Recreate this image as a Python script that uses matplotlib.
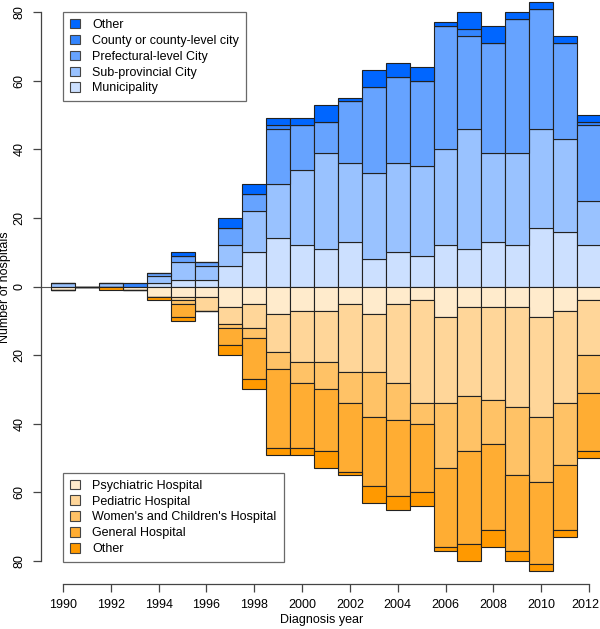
import matplotlib
matplotlib.use("Agg")
import matplotlib.pyplot as plt
import matplotlib.transforms as mtransforms
import numpy as np
from matplotlib.patches import Patch
from matplotlib.ticker import FuncFormatter

plt.rcParams["font.family"] = ["Liberation Sans", "DejaVu Sans"]

years = np.arange(1990, 2013)

# city level (drawn upward), bottom to top
city_labels = ["Municipality", "Sub-provincial City", "Prefectural-level City",
               "County or county-level city", "Other"]
municipality = [0, 0, 0, 0, 1, 2, 2, 6, 10, 14, 12, 11, 13, 8, 10, 9, 12, 11, 13, 12, 17, 16, 12]
sub_provincial = [1, 0, 1, 0, 2, 5, 4, 6, 12, 16, 22, 28, 23, 25, 26, 26, 28, 35, 26, 27, 29, 27, 13]
prefectural = [0, 0, 0, 0, 1, 2, 1, 5, 5, 16, 13, 9, 18, 25, 25, 25, 36, 27, 32, 39, 35, 28, 22]
county = [0, 0, 0, 1, 0, 0, 0, 0, 0, 1, 0, 0, 0, 0, 0, 0, 0, 2, 0, 0, 0, 0, 1]
city_other = [0, 0, 0, 0, 0, 1, 0, 3, 3, 2, 2, 5, 1, 5, 4, 4, 1, 5, 5, 2, 2, 2, 2]
city_colors = ["#cce0ff", "#99c2ff", "#66a3ff", "#3385ff", "#0066ff"]

# hospital type (drawn downward), top to bottom
hosp_labels = ["Psychiatric Hospital", "Pediatric Hospital",
               "Women's and Children's Hospital", "General Hospital", "Other"]
psychiatric = [1, 0, 0, 1, 3, 3, 3, 6, 5, 8, 7, 7, 5, 8, 5, 4, 9, 6, 6, 6, 9, 7, 4]
pediatric = [0, 0, 0, 0, 0, 1, 4, 5, 7, 11, 15, 15, 20, 17, 23, 30, 25, 26, 27, 29, 29, 27, 16]
women_children = [0, 0, 0, 0, 0, 1, 0, 1, 3, 5, 6, 8, 9, 13, 11, 6, 19, 16, 13, 20, 19, 18, 11]
general = [0, 0, 0, 0, 0, 4, 0, 5, 12, 23, 19, 18, 20, 20, 22, 20, 23, 27, 25, 22, 24, 19, 17]
hosp_other = [0, 0, 1, 0, 1, 1, 0, 3, 3, 2, 2, 5, 1, 5, 4, 4, 1, 5, 5, 3, 2, 2, 2]
hosp_colors = ["#ffebcc", "#ffd699", "#ffc266", "#ffad33", "#ff9900"]

W, H = 600, 629
FS = 9
fig = plt.figure(figsize=(W / 100, H / 100), dpi=100)
# axes placed so that 1990 -> x=63px, 2012 -> x=589px, +-80 -> y=12/561px
ax = fig.add_axes([41 / W, (H - 573) / H, (W - 41) / W, 573 / H])
ax.set_xlim(1990 - 22 / 23.909, 2012 + 11 / 23.909)
ax.set_ylim(-83.5, 83.5)

edge = dict(edgecolor="#222222", linewidth=0.8, width=1.0)

ax.axhline(0, color="#555555", lw=0.8, zorder=1)

bottom = np.zeros(len(years))
for vals, col in zip([municipality, sub_provincial, prefectural, county, city_other], city_colors):
    vals = np.array(vals)
    ax.bar(years, vals, bottom=bottom, color=col, zorder=2, **edge)
    bottom += vals

bottom = np.zeros(len(years))
for vals, col in zip([psychiatric, pediatric, women_children, general, hosp_other], hosp_colors):
    vals = np.array(vals)
    ax.bar(years, -vals, bottom=-bottom, color=col, zorder=2, **edge)
    bottom += vals

# R-like detached axes
for s in ["top", "right"]:
    ax.spines[s].set_visible(False)
ax.spines["left"].set_bounds(-80, 80)
ax.spines["bottom"].set_bounds(1990, 2012)
ax.spines["bottom"].set_position(("outward", 8))
for s in ["left", "bottom"]:
    ax.spines[s].set_color("#444444")
    ax.spines[s].set_linewidth(0.9)

ax.set_xticks(np.arange(1990, 2013, 2))
ax.set_yticks(np.arange(-80, 81, 20))
ax.yaxis.set_major_formatter(FuncFormatter(lambda v, p: f"{abs(int(v))}"))
ax.tick_params(axis="both", direction="out", length=6, width=0.9, color="#444444",
               labelsize=FS)
ax.tick_params(axis="x", pad=5)
ax.tick_params(axis="y", pad=5)
for lab in ax.get_yticklabels():
    lab.set_rotation(90)
    lab.set_va("center")

# keep the last year label inside the canvas
last = ax.get_xticklabels()[-1]
last.set_transform(last.get_transform() +
                   mtransforms.ScaledTranslation(-4 / 100, 0, fig.dpi_scale_trans))

fig.text(322 / W, 1 - 620 / H, "Diagnosis year", ha="center", va="center", fontsize=FS)
fig.text(5 / W, 1 - 287 / H, "Number of hospitals", ha="center", va="center",
         rotation=90, fontsize=FS)

leg_kw = dict(fontsize=FS, frameon=True, fancybox=False, handlelength=0.8,
              handleheight=0.8, handletextpad=1.0, labelspacing=0.3,
              borderpad=0.55, borderaxespad=0)

top_handles = [Patch(facecolor=c, edgecolor="#444444", linewidth=0.8)
               for c in city_colors[::-1]]
leg1 = ax.legend(top_handles, city_labels[::-1], loc="upper left",
                 bbox_to_anchor=(63 / W, 1 - 12 / H), bbox_transform=fig.transFigure, **leg_kw)
leg1.get_frame().set_edgecolor("#444444")
leg1.get_frame().set_linewidth(0.9)
ax.add_artist(leg1)

bot_handles = [Patch(facecolor=c, edgecolor="#444444", linewidth=0.8) for c in hosp_colors]
leg2 = ax.legend(bot_handles, hosp_labels, loc="lower left",
                 bbox_to_anchor=(63 / W, 1 - 562 / H), bbox_transform=fig.transFigure, **leg_kw)
leg2.get_frame().set_edgecolor("#444444")
leg2.get_frame().set_linewidth(0.9)

fig.savefig("out.png", dpi=100)
